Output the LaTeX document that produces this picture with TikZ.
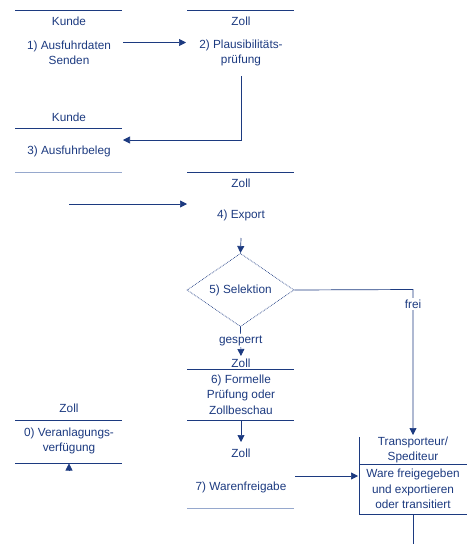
\documentclass[tikz,border=0pt]{standalone}
\usepackage{fontspec}
\setmainfont{Liberation Sans}
\usetikzlibrary{arrows.meta,shapes.geometric}
\definecolor{navy}{RGB}{28,58,128}
\definecolor{lightnavy}{RGB}{150,168,205}
\tikzset{
  txt/.style={text=navy, font=\fontsize{11.8}{15.5}\selectfont, align=center, inner sep=0pt},
  rule/.style={draw=navy, line width=0.9pt},
  faint/.style={draw=lightnavy, line width=0.9pt},
  conn/.style={draw=navy, line width=0.7pt},
  arr/.style={conn, -{Triangle[length=7pt,width=7pt]}},
  lbl/.style={txt, fill=white, inner sep=1.5pt}
}
\begin{document}
\begin{tikzpicture}[x=1pt,y=-1pt]
\useasboundingbox (0,0) rectangle (471,544);
% column rules
\draw[rule] (15,10.5) -- (122,10.5);
\draw[rule] (187,10.5) -- (294,10.5);
\draw[rule] (15,128) -- (122,128);
\draw[faint] (15,172) -- (122,172);
\draw[rule] (187,172) -- (294,172);
\draw[rule] (187,369) -- (294,369);
\draw[rule] (187,420) -- (294,420);
\draw[faint] (187,508) -- (294,508);
\draw[rule] (15,420) -- (122,420);
\draw[rule] (15,463) -- (122,463);
\draw[rule] (359,437) -- (359,515);
\draw[rule] (359,464) -- (467,464);
\draw[rule] (359,514.5) -- (467,514.5);
% texts
\node[txt] (k1t) at (69,21.5) {Kunde};
\node[txt] (k1) at (69,53) {1) Ausfuhrdaten\\Senden};
\node[txt] (z2t) at (241,21.5) {Zoll};
\node[txt] (z2) at (241,53) {2) Plausibilitäts-\\prüfung};
\node[txt] (k3t) at (69,117) {Kunde};
\node[txt] (k3) at (69,151) {3) Ausfuhrbeleg};
\node[txt] (z4t) at (241,183) {Zoll};
\node[txt] (z4) at (241,215) {4) Export};
\node[diamond, draw=navy, densely dotted, line width=0.7pt, minimum width=107pt, minimum height=64pt, inner sep=0pt, txt] (sel) at (240.5,290) {5) Selektion};
\node[txt] (z6t) at (241,363) {Zoll};
\node[txt] (z6) at (241,394.5) {6) Formelle\\Prüfung oder\\Zollbeschau};
\node[txt] (z7t) at (241,453) {Zoll};
\node[txt] (z7) at (241,487) {7) Warenfreigabe};
\node[txt] (z0t) at (69,408) {Zoll};
\node[txt] (z0) at (69,441) {0) Veranlagungs-\\verfügung};
\node[txt] (tt) at (413,450) {Transporteur/\\Spediteur};
\node[txt] (tw) at (413,489) {Ware freigegeben\\und exportieren\\oder transitiert};
% connector ends
\coordinate (a1s) at (123,42.5);
\coordinate (a1e) at (186,42.5);
\coordinate (a2s) at (241,76);
\coordinate (a2m) at (241,140);
\coordinate (a2e) at (123,140);
\coordinate (a3s) at (69,204);
\coordinate (a3e) at (187,204);
\coordinate (a4s) at (241,238);
\coordinate (a5e) at (241,356);
\coordinate (a6m) at (413,289.5);
\coordinate (a6e) at (413,435);
\coordinate (a7s) at (241,420);
\coordinate (a7e) at (241,442);
\coordinate (a8s) at (295,476);
\coordinate (a8e) at (358,476);
\coordinate (a9s) at (69,471);
\coordinate (a9e) at (69,463.5);
\coordinate (a10s) at (413,515);
\coordinate (a10e) at (413,544);
% connectors
\draw[arr] (a1s) -- (a1e);
\draw[arr] (a2s) -- (a2m) -- (a2e);
\draw[arr] (a3s) -- (a3e);
\draw[arr] (a4s) -- (sel.north);
\draw[arr] (sel.south) -- node[lbl, pos=0.48] {gesperrt} (a5e);
\draw[arr] (sel.east) -- (a6m) -- node[lbl, pos=0.1] {frei} (a6e);
\draw[arr] (a7s) -- (a7e);
\draw[arr] (a8s) -- (a8e);
\draw[arr] (a9s) -- (a9e);
\draw[conn] (a10s) -- (a10e);
\end{tikzpicture}
\end{document}
